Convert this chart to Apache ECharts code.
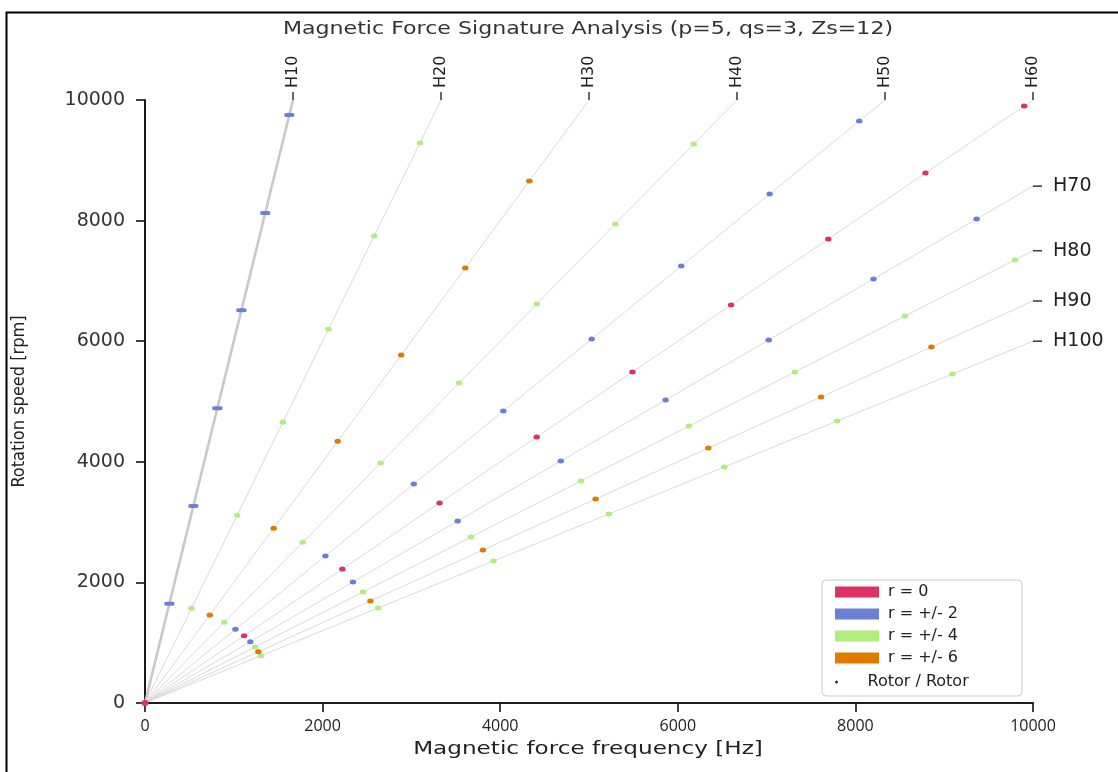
<!DOCTYPE html>
<html>
<head>
<meta charset="utf-8">
<script src="https://cdn.jsdelivr.net/npm/echarts@6/dist/echarts.min.js"></script>
<style>
html,body{margin:0;padding:0;background:#fff;}
#chart{width:1118px;height:772px;}
</style>
</head>
<body>
<div id="chart"></div>
<script>
// ---- data ----
const titleText = 'Magnetic Force Signature Analysis (p=5, qs=3, Zs=12)';
const xName = 'Magnetic force frequency [Hz]';
const yName = 'Rotation speed [rpm]';
const harmonics = [10, 20, 30, 40, 50, 60, 70, 80, 90, 100];
const groupNames = ['r = 0', 'r = +/- 2', 'r = +/- 4', 'r = +/- 6'];
const groupColors = ['#de3164', '#6b7fd4', '#b3ec7e', '#e07a00'];
const rotorName = 'Rotor / Rotor';
// group index (into groupNames) of the points on each harmonic line
const harmonicGroup = [1, 2, 3, 2, 1, 0, 1, 2, 3, 2];
// rotation speeds (rpm) of the marked points on each harmonic line
const rpmH10 = [1647, 3267, 4887, 6512, 8126, 9751];
const rpmH20 = [1570, 3113, 4655, 6200, 7745, 9287];
const rpmH30 = [1459, 2897, 4340, 5771, 7214, 8657];
const rpmH40 = [1338, 2665, 3980, 5307, 6617, 7944, 9270];
const rpmH50 = [1222, 2438, 3632, 4842, 6036, 7247, 8441, 9652];
const rpmH60 = [1116, 2222, 3317, 4411, 5489, 6600, 7695, 8789, 9900];
const rpmH70 = [1017, 2007, 3018, 4013, 5025, 6020, 7032, 8027];
const rpmH80 = [929, 1841, 2753, 3682, 4594, 5489, 6418, 7347];
const rpmH90 = [851, 1692, 2537, 3383, 4229, 5075, 5904];
const rpmH100 = [784, 1575, 2355, 3134, 3914, 4677, 5456];
const rpmByHarmonic = [rpmH10, rpmH20, rpmH30, rpmH40, rpmH50, rpmH60, rpmH70, rpmH80, rpmH90, rpmH100];
const originPoint = [0, 0];
const axisMax = 10000;
const axisStep = 2000;

// ---- build ----
const freqOf = (h, rpm) => h * rpm / 60;
const series = [];
harmonics.forEach((h, i) => {
  const rpmEnd = Math.min(axisMax, axisMax * 60 / h);
  series.push({
    type: 'line', silent: true, showSymbol: false, z: 1,
    data: [[0, 0], [freqOf(h, rpmEnd), rpmEnd]],
    lineStyle: { color: i === 0 ? '#c8c8c8' : '#d9d9d9', width: i === 0 ? 2.6 : 1 }
  });
});
const ellipse = 'path://M0 5A6 5 0 1 0 12 5A6 5 0 1 0 0 5Z';
groupNames.forEach((g, gi) => {
  const data = [];
  if (gi === 0) data.push({ value: originPoint, symbolSize: [7, 6] });
  harmonics.forEach((h, i) => {
    if (harmonicGroup[i] !== gi) return;
    rpmByHarmonic[i].forEach(r => {
      data.push(i === 0
        ? { value: [freqOf(h, r), r], symbol: 'roundRect', symbolSize: [10, 4] }
        : { value: [freqOf(h, r), r] });
    });
  });
  series.push({
    name: g, type: 'scatter', z: 3, symbol: ellipse, symbolSize: [6.5, 5],
    itemStyle: { color: groupColors[gi], opacity: 1 }, data: data
  });
});
series.push({
  name: rotorName, type: 'scatter', z: 2, symbol: 'circle', symbolSize: 2,
  itemStyle: { color: '#000' }, data: [originPoint]
});

// harmonic tick positions on the top (frequency at max speed) and right (speed at max frequency) edges
const topTicks = harmonics.filter(h => h * axisMax / 60 <= axisMax).map(h => h * axisMax / 60);
const rightTicks = harmonics.filter(h => h * axisMax / 60 > axisMax).map(h => axisMax * 60 / h);
series.push({
  type: 'scatter', silent: true, clip: false, z: 4, symbol: 'rect',
  symbolSize: [1.6, 8], symbolOffset: [0, -4], itemStyle: { color: '#111' },
  data: topTicks.map(f => [f, axisMax])
});
series.push({
  type: 'scatter', silent: true, clip: false, z: 4, symbol: 'rect',
  symbolSize: [9, 1.6], symbolOffset: [4.5, 0], itemStyle: { color: '#111' },
  data: rightTicks.map(r => [axisMax, r])
});

const axisLineStyle = { color: '#111', width: 1.6 };
const chart = echarts.init(document.getElementById('chart'));
chart.setOption({
  animation: false,
  backgroundColor: '#fff',
  grid: { left: 145, right: 85, top: 100, bottom: 69 },
  xAxis: [{
    type: 'value', min: 0, max: axisMax, interval: axisStep, position: 'bottom',
    axisLine: { lineStyle: axisLineStyle },
    axisTick: { length: 9, lineStyle: axisLineStyle },
    axisLabel: { margin: 15, fontFamily: 'Open Sans', fontSize: 16, color: '#222', formatter: v => String(v) },
    splitLine: { show: false }
  }, {
    type: 'value', min: 0, max: axisMax, position: 'top',
    axisLine: { lineStyle: axisLineStyle },
    axisTick: { show: false },
    axisLabel: {
      customValues: topTicks, rotate: 90, margin: 12,
      fontFamily: 'DejaVu Sans', fontSize: 16, color: '#222',
      formatter: v => 'H' + Math.round(v * 60 / axisMax)
    },
    splitLine: { show: false }
  }],
  yAxis: [{
    type: 'value', min: 0, max: axisMax, interval: axisStep, position: 'left',
    name: yName, nameLocation: 'middle', nameGap: 117,
    nameTextStyle: { fontFamily: "'DejaVu Sans Condensed', 'Liberation Sans Narrow', sans-serif", fontSize: 18, color: '#222' },
    axisLine: { lineStyle: axisLineStyle },
    axisTick: { length: 9, lineStyle: axisLineStyle },
    axisLabel: { margin: 20, fontFamily: 'DejaVu Sans', fontSize: 19, color: '#333', formatter: v => String(v) },
    splitLine: { show: false }
  }, {
    type: 'value', min: 0, max: axisMax, position: 'right',
    axisLine: { lineStyle: axisLineStyle },
    axisTick: { show: false },
    axisLabel: {
      customValues: rightTicks, margin: 20,
      fontFamily: 'DejaVu Sans', fontSize: 19, color: '#222',
      formatter: v => 'H' + Math.round(axisMax * 60 / v)
    },
    splitLine: { show: false }
  }],
  legend: [{
    data: groupNames, orient: 'vertical', left: 830, top: 579, z: 6,
    icon: 'rect', itemWidth: 44, itemHeight: 11, itemGap: 6,
    textStyle: { fontFamily: 'DejaVu Sans', fontSize: 16, color: '#222', lineHeight: 16, padding: [0, 0, 0, 4] },
    selectedMode: false
  }, {
    data: [rotorName], orient: 'vertical', left: 830, top: 669, z: 6,
    icon: 'circle', itemWidth: 44, itemHeight: 3,
    itemStyle: { color: '#000' },
    textStyle: { fontFamily: 'DejaVu Sans', fontSize: 16, color: '#222', lineHeight: 16, padding: [0, 0, 0, 4] },
    selectedMode: false
  }],
  graphic: [{
    type: 'text', x: 588, y: 30, scaleX: 1.3, silent: true,
    style: { text: titleText, x: 0, y: 0, align: 'center', verticalAlign: 'middle',
      font: '17px "DejaVu Sans"', fill: '#333' }
  }, {
    type: 'text', x: 588, y: 750, scaleX: 1.36, silent: true,
    style: { text: xName, x: 0, y: 0, align: 'center', verticalAlign: 'middle',
      font: '17px "DejaVu Sans"', fill: '#222' }
  }, {
    type: 'rect', z: 5, silent: true,
    shape: { x: 822, y: 580, width: 200, height: 116, r: 4 },
    style: { fill: '#fff', stroke: '#cccccc', lineWidth: 1 }
  }, {
    type: 'rect', z: 100, silent: true,
    shape: { x: 6.5, y: 12.5, width: 1300, height: 900 },
    style: { fill: 'none', stroke: '#000', lineWidth: 2 }
  }],
  series: series
});
</script>
</body>
</html>
